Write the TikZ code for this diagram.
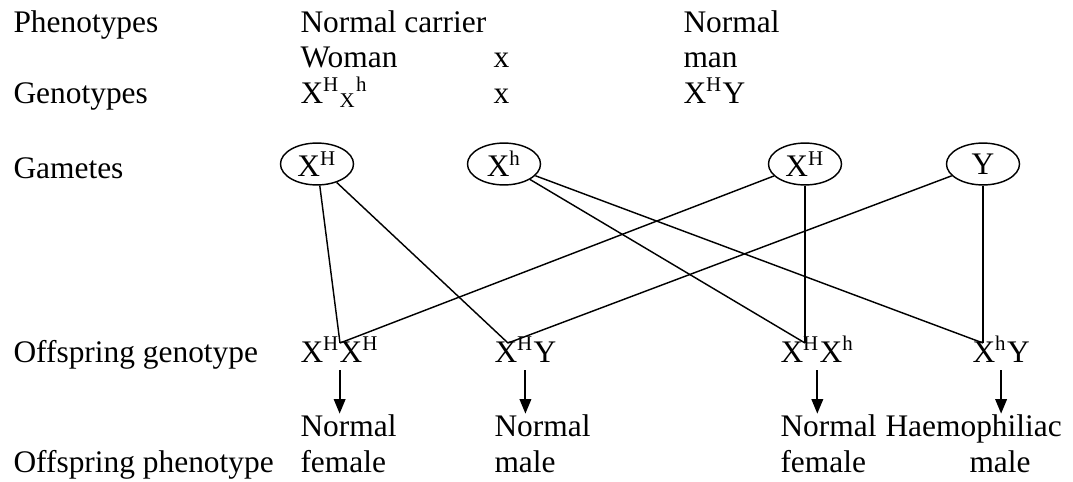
\documentclass[tikz,border=0pt]{standalone}
\usepackage{fontspec}
\setmainfont{Liberation Serif}
\usetikzlibrary{arrows.meta,positioning,shapes.geometric}

\begin{document}
\begin{tikzpicture}[
    x=0.382pt,
    y=-0.382pt,
    texte/.style={
        anchor=base west,
        inner sep=0pt,
        font=\fontsize{12}{14}\selectfont
    },
    gamete/.style={
        ellipse,
        draw,
        line width=0.55pt,
        minimum width=27.9pt,
        minimum height=16pt,
        inner sep=0pt,
        font=\fontsize{12}{14}\selectfont
    },
    trait/.style={
        line width=0.55pt
    },
    fleche/.style={
        -{Triangle[length=5.6pt,width=4.4pt]},
        line width=0.8pt,
        shorten <=3pt
    }
]
\useasboundingbox (0,0) rectangle (1073,481);

% Row labels
\node[texte] (lphen) at (13,32) {Phenotypes};
\node[texte] (lgen) at (13,103) {Genotypes};
\node[texte] (lgam) at (13,178) {Gametes};
\node[texte] (loff) at (13,362) {Offspring genotype};
\node[texte] (lphe) at (13,472) {Offspring phenotype};

% Parents
\node[texte] (mere1) at (300,32) {Normal carrier};
\node[texte] (mere2) at (300,67) {Woman};
\node[texte] (mere3) at (300,103) {X\textsuperscript{H}\textsubscript{X}\textsuperscript{h}};
\node[texte] (croix1) at (493,67) {x};
\node[texte] (croix2) at (493,103) {x};
\node[texte] (pere1) at (683,32) {Normal};
\node[texte] (pere2) at (683,67) {man};
\node[texte] (pere3) at (683,103) {X\textsuperscript{H}Y};

% Gametes
\node[gamete] (g1) at (317,164) {X\textsuperscript{H}};
\node[gamete] (g2) at (504,164) {X\textsuperscript{h}};
\node[gamete] (g3) at (805,164) {X\textsuperscript{H}};
\node[gamete] (g4) at (983,164) {Y};

% Offspring genotypes
\node[texte] (o1) at (300,362) {X\textsuperscript{H}X\textsuperscript{H}};
\node[texte] (o2) at (494,362) {X\textsuperscript{H}Y};
\node[texte] (o3) at (780,362) {X\textsuperscript{H}X\textsuperscript{h}};
\node[texte] (o4) at (972,362) {X\textsuperscript{h}Y};

% Meeting points above the offspring
\coordinate (v1) at (340,343);
\coordinate (v2) at (508,343);
\coordinate (v3) at (805,343);
\coordinate (v4) at (983,343);

% Crosses
\draw[trait] (g1) -- (v1);
\draw[trait] (g3) -- (v1);
\draw[trait] (g1) -- (v2);
\draw[trait] (g4) -- (v2);
\draw[trait] (g2) -- (v3);
\draw[trait] (g3) -- (v3);
\draw[trait] (g2) -- (v4);
\draw[trait] (g4) -- (v4);

% Offspring phenotypes
\node[texte] (p1) at (300,436) {Normal};
\node[texte] (p2) at (494,436) {Normal};
\node[texte] (p3) at (780,436) {Normal};
\node[texte] (p4) at (885,436) {Haemophiliac};
\node[texte] (q1) at (300,472) {female};
\node[texte] (q2) at (494,472) {male};
\node[texte] (q3) at (780,472) {female};
\node[texte] (q4) at (969,472) {male};

% Arrows
\draw[fleche] (o1.south) -- (o1.south |- p1.north);
\draw[fleche] (o2.south) -- (o2.south |- p2.north);
\draw[fleche] (o3.south) -- (o3.south |- p3.north);
\draw[fleche] (o4.south) -- (o4.south |- p4.north);

\end{tikzpicture}
\end{document}
